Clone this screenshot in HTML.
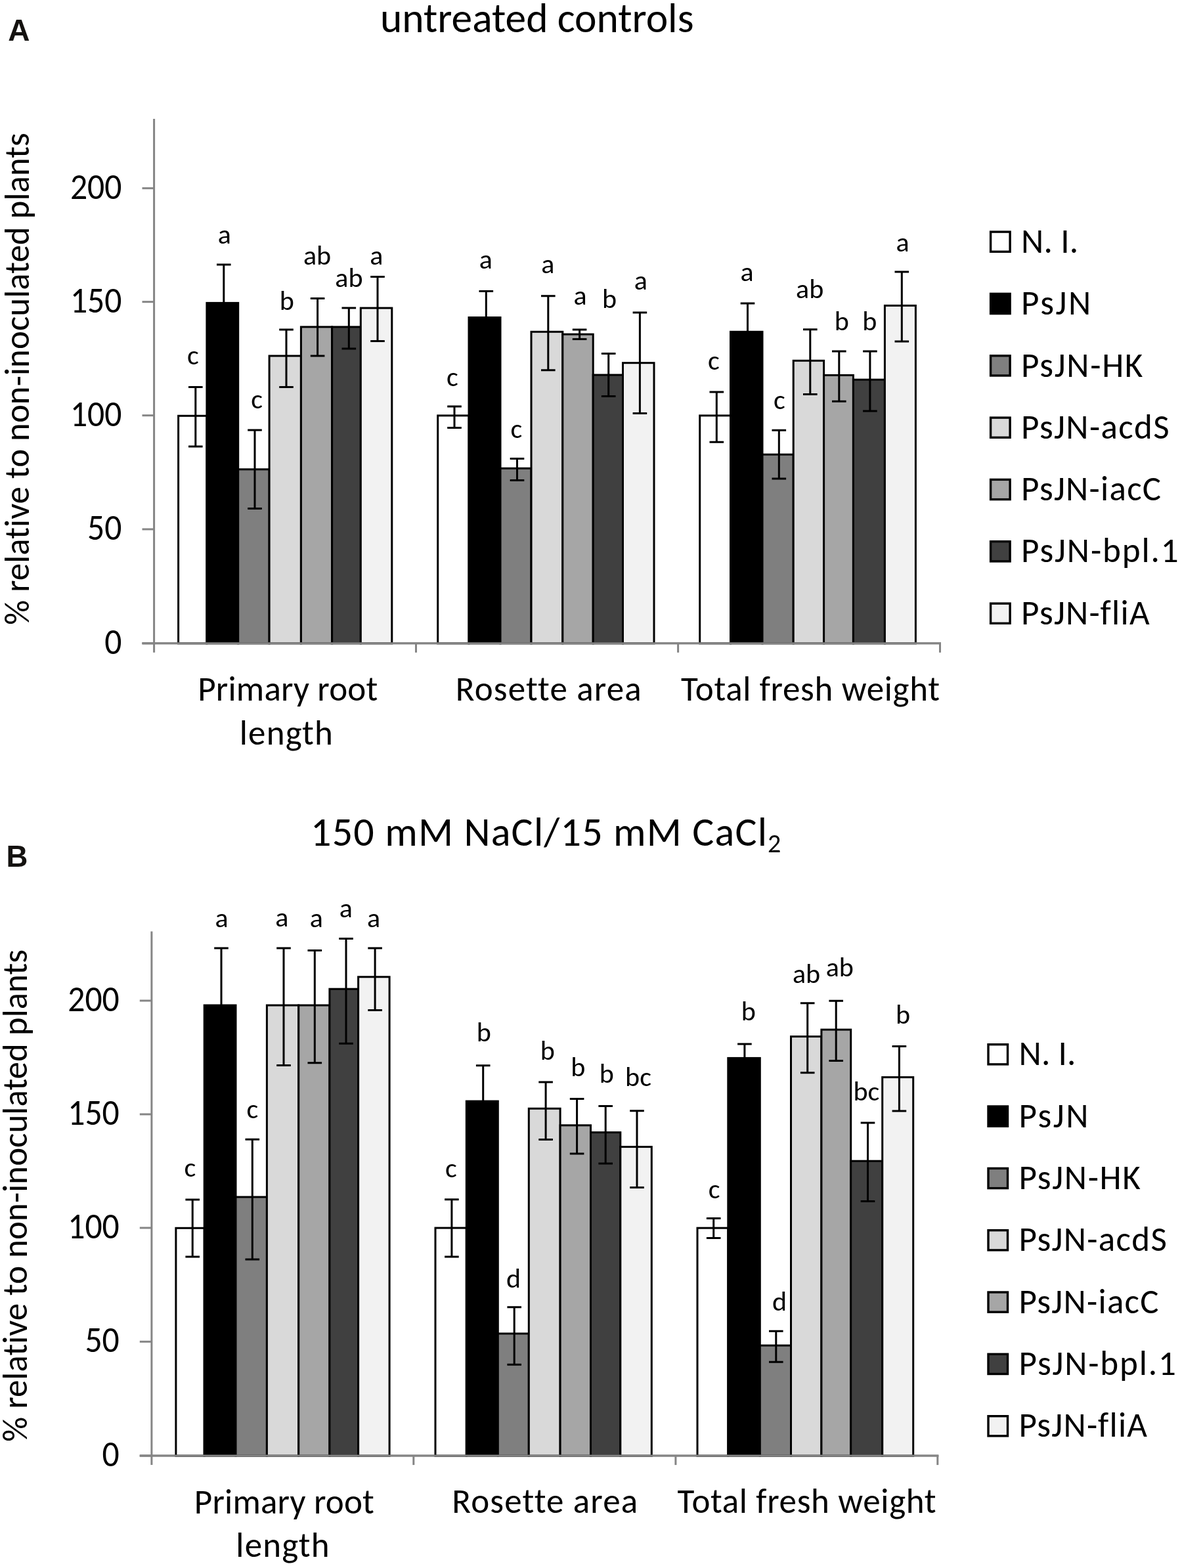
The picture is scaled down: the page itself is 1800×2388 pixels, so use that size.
<!DOCTYPE html><html><head><meta charset="utf-8"><title>Figure</title>
<style>html,body{margin:0;padding:0;background:#fff;}svg{display:block;}text{font-variant-ligatures:none;font-feature-settings:"liga" 0,"clig" 0;}</style></head><body>
<svg width="1800" height="2388" viewBox="0 0 1800 2388">
<rect width="1800" height="2388" fill="#fff"/>
<g font-family="'Liberation Sans', Arial, sans-serif" font-weight="bold" fill="#141210">
<text x="12.2" y="61.8" font-size="46">A</text>
<text x="9.6" y="1319.7" font-size="45.5">B</text>
</g>
<text font-family="Carlito, 'Liberation Sans', sans-serif" font-size="63.5" fill="#000" x="579" y="49.3" textLength="477.5">untreated controls</text>
<text font-family="Carlito, 'Liberation Sans', sans-serif" font-size="62" fill="#000" x="473" y="1287.5" textLength="695">150 mM NaCl/15 mM CaCl</text>
<text font-family="Carlito, 'Liberation Sans', sans-serif" font-size="40" fill="#000" x="1169" y="1298.3">2</text>
<text font-family="Carlito, 'Liberation Sans', sans-serif" font-size="53" fill="#000" text-anchor="middle" textLength="749.7" transform="translate(44 577) rotate(-90)">% relative to non-inoculated plants</text>
<text font-family="Carlito, 'Liberation Sans', sans-serif" font-size="53" fill="#000" text-anchor="middle" textLength="749.7" transform="translate(41.4 1820.8) rotate(-90)">% relative to non-inoculated plants</text>
<g stroke="#858585" stroke-width="3" fill="none">
<line x1="234.6" y1="181.1" x2="234.6" y2="993.8"/>
<line x1="216.5" y1="286.7" x2="234.6" y2="286.7"/>
<line x1="216.5" y1="459.7" x2="234.6" y2="459.7"/>
<line x1="216.5" y1="632.7" x2="234.6" y2="632.7"/>
<line x1="216.5" y1="806" x2="234.6" y2="806"/>
<line x1="216.5" y1="979.8" x2="234.6" y2="979.8"/>
<line x1="216.5" y1="979.8" x2="1433" y2="979.8"/>
<line x1="633.5" y1="979.8" x2="633.5" y2="993.8"/>
<line x1="1032.6" y1="979.8" x2="1032.6" y2="993.8"/>
<line x1="1431.5" y1="979.8" x2="1431.5" y2="993.8"/>
</g>
<g stroke="#000" stroke-width="3">
<rect x="271.6" y="633.3" width="43.3" height="346.5" fill="#ffffff"/>
<rect x="314.9" y="461.4" width="47.8" height="518.4" fill="#000000"/>
<rect x="362.7" y="714.8" width="47.4" height="265" fill="#7f7f7f"/>
<rect x="410.1" y="542" width="48.3" height="437.8" fill="#d9d9d9"/>
<rect x="458.4" y="497.9" width="47.2" height="481.9" fill="#a6a6a6"/>
<rect x="505.6" y="497.9" width="43.7" height="481.9" fill="#404040"/>
<rect x="549.3" y="469.1" width="47.5" height="510.7" fill="#f2f2f2"/>
<rect x="666.7" y="632.9" width="47.3" height="346.9" fill="#ffffff"/>
<rect x="714" y="483.5" width="48" height="496.3" fill="#000000"/>
<rect x="762" y="713.3" width="47" height="266.5" fill="#7f7f7f"/>
<rect x="809" y="505.3" width="47.8" height="474.5" fill="#d9d9d9"/>
<rect x="856.8" y="509.1" width="46.4" height="470.7" fill="#a6a6a6"/>
<rect x="903.2" y="571" width="45.3" height="408.8" fill="#404040"/>
<rect x="948.5" y="552.7" width="47.5" height="427.1" fill="#f2f2f2"/>
<rect x="1065.7" y="632.9" width="46.8" height="346.9" fill="#ffffff"/>
<rect x="1112.5" y="505.3" width="48.5" height="474.5" fill="#000000"/>
<rect x="1161" y="692.2" width="47.2" height="287.6" fill="#7f7f7f"/>
<rect x="1208.2" y="549.3" width="46.4" height="430.5" fill="#d9d9d9"/>
<rect x="1254.6" y="571.4" width="44.8" height="408.4" fill="#a6a6a6"/>
<rect x="1299.4" y="578.2" width="48" height="401.6" fill="#404040"/>
<rect x="1347.4" y="465.4" width="47" height="514.4" fill="#f2f2f2"/>
</g>
<line x1="216.5" y1="979.8" x2="1433" y2="979.8" stroke="#858585" stroke-width="3"/>
<g stroke="#000" stroke-width="3" fill="none">
<path d="M297.8 589.4V680.1M287 589.4H308.6M287 680.1H308.6"/>
<path d="M340.8 403V519.8M330 403H351.6M330 519.8H351.6"/>
<path d="M388 655V774.6M377.2 655H398.8M377.2 774.6H398.8"/>
<path d="M436 502V589.4M425.2 502H446.8M425.2 589.4H446.8"/>
<path d="M483.6 454.4V542M472.8 454.4H494.4M472.8 542H494.4"/>
<path d="M531.3 469.1V531M520.5 469.1H542.1M520.5 531H542.1"/>
<path d="M575 421.5V519.5M564.2 421.5H585.8M564.2 519.5H585.8"/>
<path d="M692 618.9V651.4M681.2 618.9H702.8M681.2 651.4H702.8"/>
<path d="M740.3 443.4V523.6M729.5 443.4H751.1M729.5 523.6H751.1"/>
<path d="M787.5 698.6V731.6M776.7 698.6H798.3M776.7 731.6H798.3"/>
<path d="M834.8 450.7V563.7M824 450.7H845.6M824 563.7H845.6"/>
<path d="M882.6 502.1V516.4M871.8 502.1H893.4M871.8 516.4H893.4"/>
<path d="M926.7 538.5V603.5M915.9 538.5H937.5M915.9 603.5H937.5"/>
<path d="M974.4 476.1V629.4M963.6 476.1H985.2M963.6 629.4H985.2"/>
<path d="M1091.3 596.9V673.3M1080.5 596.9H1102.1M1080.5 673.3H1102.1"/>
<path d="M1138.5 462V548.6M1127.7 462H1149.3M1127.7 548.6H1149.3"/>
<path d="M1186.3 655.3V729.1M1175.5 655.3H1197.1M1175.5 729.1H1197.1"/>
<path d="M1233.8 501.8V600.5M1223 501.8H1244.6M1223 600.5H1244.6"/>
<path d="M1277.8 534.9V611.3M1267 534.9H1288.6M1267 611.3H1288.6"/>
<path d="M1324.9 534.9V626.1M1314.1 534.9H1335.7M1314.1 626.1H1335.7"/>
<path d="M1373.3 414.1V520.1M1362.5 414.1H1384.1M1362.5 520.1H1384.1"/>
</g>
<g font-family="Carlito, 'Liberation Sans', sans-serif" font-size="42" text-anchor="middle" fill="#000">
<text x="294" y="555" textLength="17.8">c</text>
<text x="341.9" y="371" textLength="20.1">a</text>
<text x="391.2" y="622.4" textLength="17.8">c</text>
<text x="436.9" y="472.3" textLength="22.1">b</text>
<text x="483.1" y="403" textLength="42.2">ab</text>
<text x="531.4" y="436.6" textLength="42.2">ab</text>
<text x="573.4" y="403" textLength="20.1">a</text>
<text x="688.9" y="587.8" textLength="17.8">c</text>
<text x="739.8" y="409.3" textLength="20.1">a</text>
<text x="786.5" y="666.5" textLength="17.8">c</text>
<text x="834.3" y="415.6" textLength="20.1">a</text>
<text x="883.6" y="464" textLength="20.1">a</text>
<text x="928" y="469.2" textLength="22.1">b</text>
<text x="975.9" y="440.8" textLength="20.1">a</text>
<text x="1086.8" y="563.4" textLength="17.8">c</text>
<text x="1137.5" y="427.8" textLength="20.1">a</text>
<text x="1187" y="622.7" textLength="17.8">c</text>
<text x="1233.2" y="454" textLength="42.2">ab</text>
<text x="1281.9" y="503" textLength="22.1">b</text>
<text x="1324.4" y="503" textLength="22.1">b</text>
<text x="1374.5" y="383.3" textLength="20.1">a</text>
</g>
<g font-family="Carlito, 'Liberation Sans', sans-serif" font-size="55" text-anchor="end" fill="#000">
<text x="185.5" y="302.7" textLength="78.6" lengthAdjust="spacingAndGlyphs">200</text>
<text x="185.5" y="475.7" textLength="78.6" lengthAdjust="spacingAndGlyphs">150</text>
<text x="185.5" y="648.7" textLength="78.6" lengthAdjust="spacingAndGlyphs">100</text>
<text x="185.5" y="822" textLength="52.4" lengthAdjust="spacingAndGlyphs">50</text>
<text x="185.5" y="995.8" textLength="26.2" lengthAdjust="spacingAndGlyphs">0</text>
</g>
<g font-family="Carlito, 'Liberation Sans', sans-serif" font-size="53" text-anchor="middle" fill="#000">
<text x="438.2" y="1067.2" textLength="274">Primary root</text>
<text x="435.8" y="1133.9" textLength="142.2">length</text>
<text x="835.2" y="1067" textLength="282.9">Rosette area</text>
<text x="1234" y="1067" textLength="394">Total fresh weight</text>
</g>
<g font-family="Carlito, 'Liberation Sans', sans-serif" font-size="53" fill="#000">
<rect x="1508.6" y="353.1" width="29.5" height="30.2" fill="#ffffff" stroke="#000" stroke-width="3.4"/>
<text x="1555.1" y="384.8" textLength="87">N. I.</text>
<rect x="1508.6" y="447.4" width="29.5" height="30.2" fill="#000000" stroke="#000" stroke-width="3.4"/>
<text x="1555.1" y="479.1" textLength="106">PsJN</text>
<rect x="1508.6" y="541.8" width="29.5" height="30.2" fill="#7f7f7f" stroke="#000" stroke-width="3.4"/>
<text x="1555.1" y="573.5" textLength="185.3">PsJN-HK</text>
<rect x="1508.6" y="636.1" width="29.5" height="30.2" fill="#d9d9d9" stroke="#000" stroke-width="3.4"/>
<text x="1555.1" y="667.8" textLength="225.4">PsJN-acdS</text>
<rect x="1508.6" y="730.4" width="29.5" height="30.2" fill="#a6a6a6" stroke="#000" stroke-width="3.4"/>
<text x="1555.1" y="762.1" textLength="213">PsJN-iacC</text>
<rect x="1508.6" y="824.7" width="29.5" height="30.2" fill="#404040" stroke="#000" stroke-width="3.4"/>
<text x="1555.1" y="856.4" textLength="239.4">PsJN-bpl.1</text>
<rect x="1508.6" y="919.1" width="29.5" height="30.2" fill="#f2f2f2" stroke="#000" stroke-width="3.4"/>
<text x="1555.1" y="950.8" textLength="195.5">PsJN-fliA</text>
</g>
<g stroke="#858585" stroke-width="3" fill="none">
<line x1="230.9" y1="1418.4" x2="230.9" y2="2231.1"/>
<line x1="212.8" y1="1524" x2="230.9" y2="1524"/>
<line x1="212.8" y1="1697" x2="230.9" y2="1697"/>
<line x1="212.8" y1="1870" x2="230.9" y2="1870"/>
<line x1="212.8" y1="2043.3" x2="230.9" y2="2043.3"/>
<line x1="212.8" y1="2217.1" x2="230.9" y2="2217.1"/>
<line x1="212.8" y1="2217.1" x2="1429.3" y2="2217.1"/>
<line x1="629.8" y1="2217.1" x2="629.8" y2="2231.1"/>
<line x1="1028.9" y1="2217.1" x2="1028.9" y2="2231.1"/>
<line x1="1427.8" y1="2217.1" x2="1427.8" y2="2231.1"/>
</g>
<g stroke="#000" stroke-width="3">
<rect x="267.9" y="1870.3" width="43.3" height="346.8" fill="#ffffff"/>
<rect x="311.2" y="1531" width="47.8" height="686.1" fill="#000000"/>
<rect x="359" y="1823" width="47.4" height="394.1" fill="#7f7f7f"/>
<rect x="406.4" y="1531" width="48.3" height="686.1" fill="#d9d9d9"/>
<rect x="454.7" y="1531" width="47.2" height="686.1" fill="#a6a6a6"/>
<rect x="501.9" y="1506.2" width="43.7" height="710.9" fill="#404040"/>
<rect x="545.6" y="1487.8" width="47.5" height="729.3" fill="#f2f2f2"/>
<rect x="663" y="1870.1" width="47.3" height="347" fill="#ffffff"/>
<rect x="710.3" y="1677.1" width="48" height="540" fill="#000000"/>
<rect x="758.3" y="2031" width="47" height="186.1" fill="#7f7f7f"/>
<rect x="805.3" y="1688.3" width="47.8" height="528.8" fill="#d9d9d9"/>
<rect x="853.1" y="1713.8" width="46.4" height="503.3" fill="#a6a6a6"/>
<rect x="899.5" y="1724.6" width="45.3" height="492.5" fill="#404040"/>
<rect x="944.8" y="1746.6" width="47.5" height="470.5" fill="#f2f2f2"/>
<rect x="1062" y="1870.2" width="46.8" height="346.9" fill="#ffffff"/>
<rect x="1108.8" y="1611.4" width="48.5" height="605.7" fill="#000000"/>
<rect x="1157.3" y="2049.1" width="47.2" height="168" fill="#7f7f7f"/>
<rect x="1204.5" y="1578.6" width="46.4" height="638.5" fill="#d9d9d9"/>
<rect x="1250.9" y="1568.1" width="44.8" height="649" fill="#a6a6a6"/>
<rect x="1295.7" y="1768.2" width="48" height="448.9" fill="#404040"/>
<rect x="1343.7" y="1640.6" width="47" height="576.5" fill="#f2f2f2"/>
</g>
<line x1="212.8" y1="2217.1" x2="1429.3" y2="2217.1" stroke="#858585" stroke-width="3"/>
<g stroke="#000" stroke-width="3" fill="none">
<path d="M293.2 1827.1V1914.1M282.4 1827.1H304M282.4 1914.1H304"/>
<path d="M337 1444V1618M326.2 1444H347.8M326.2 1618H347.8"/>
<path d="M384.3 1735.3V1918M373.5 1735.3H395.1M373.5 1918H395.1"/>
<path d="M432 1444V1622.6M421.2 1444H442.8M421.2 1622.6H442.8"/>
<path d="M479.3 1447.4V1618.7M468.5 1447.4H490.1M468.5 1618.7H490.1"/>
<path d="M527 1429.5V1589.2M516.2 1429.5H537.8M516.2 1589.2H537.8"/>
<path d="M571.1 1444V1538.6M560.3 1444H581.9M560.3 1538.6H581.9"/>
<path d="M687.9 1826.7V1914.1M677.1 1826.7H698.7M677.1 1914.1H698.7"/>
<path d="M735.7 1622.7V1731.5M724.9 1622.7H746.5M724.9 1731.5H746.5"/>
<path d="M783.2 1990.8V2078.2M772.4 1990.8H794M772.4 2078.2H794"/>
<path d="M831.1 1647.9V1735.4M820.3 1647.9H841.9M820.3 1735.4H841.9"/>
<path d="M878.6 1673.4V1757M867.8 1673.4H889.4M867.8 1757H889.4"/>
<path d="M922.2 1684.6V1772.1M911.4 1684.6H933M911.4 1772.1H933"/>
<path d="M970 1691.7V1808.4M959.2 1691.7H980.8M959.2 1808.4H980.8"/>
<path d="M1086.7 1855.4V1885.5M1075.9 1855.4H1097.5M1075.9 1885.5H1097.5"/>
<path d="M1133.9 1590V1632.8M1123.1 1590H1144.7M1123.1 1632.8H1144.7"/>
<path d="M1181.8 2027.3V2074.2M1171 2027.3H1192.6M1171 2074.2H1192.6"/>
<path d="M1229.7 1527.8V1633.8M1218.9 1527.8H1240.5M1218.9 1633.8H1240.5"/>
<path d="M1273.2 1524.3V1615.5M1262.4 1524.3H1284M1262.4 1615.5H1284"/>
<path d="M1321.5 1710.1V1829.6M1310.7 1710.1H1332.3M1310.7 1829.6H1332.3"/>
<path d="M1369.4 1593.4V1691.9M1358.6 1593.4H1380.2M1358.6 1691.9H1380.2"/>
</g>
<g font-family="Carlito, 'Liberation Sans', sans-serif" font-size="42" text-anchor="middle" fill="#000">
<text x="289.4" y="1792.1" textLength="17.8">c</text>
<text x="337.5" y="1412.2" textLength="20.1">a</text>
<text x="384.4" y="1702.5" textLength="17.8">c</text>
<text x="429.3" y="1411" textLength="20.1">a</text>
<text x="481.9" y="1411.5" textLength="20.1">a</text>
<text x="526.9" y="1396.5" textLength="20.1">a</text>
<text x="569" y="1412" textLength="20.1">a</text>
<text x="687" y="1792.6" textLength="17.8">c</text>
<text x="736.7" y="1586.4" textLength="22.1">b</text>
<text x="782" y="1961.2" textLength="22.1">d</text>
<text x="833.8" y="1614.4" textLength="22.1">b</text>
<text x="880.2" y="1639.3" textLength="22.1">b</text>
<text x="923.7" y="1649" textLength="22.1">b</text>
<text x="972" y="1654.4" textLength="39.8">bc</text>
<text x="1087.6" y="1825.1" textLength="17.8">c</text>
<text x="1139.9" y="1554" textLength="22.1">b</text>
<text x="1187" y="1996" textLength="22.1">d</text>
<text x="1228" y="1497" textLength="42.2">ab</text>
<text x="1278.8" y="1486.7" textLength="42.2">ab</text>
<text x="1319.3" y="1675.9" textLength="39.8">bc</text>
<text x="1375.1" y="1558.5" textLength="22.1">b</text>
</g>
<g font-family="Carlito, 'Liberation Sans', sans-serif" font-size="55" text-anchor="end" fill="#000">
<text x="181.8" y="1540" textLength="78.6" lengthAdjust="spacingAndGlyphs">200</text>
<text x="181.8" y="1713" textLength="78.6" lengthAdjust="spacingAndGlyphs">150</text>
<text x="181.8" y="1886" textLength="78.6" lengthAdjust="spacingAndGlyphs">100</text>
<text x="181.8" y="2059.3" textLength="52.4" lengthAdjust="spacingAndGlyphs">50</text>
<text x="181.8" y="2233.1" textLength="26.2" lengthAdjust="spacingAndGlyphs">0</text>
</g>
<g font-family="Carlito, 'Liberation Sans', sans-serif" font-size="53" text-anchor="middle" fill="#000">
<text x="432.8" y="2304.5" textLength="274">Primary root</text>
<text x="430.4" y="2371.2" textLength="142.2">length</text>
<text x="829.8" y="2304.3" textLength="282.9">Rosette area</text>
<text x="1228.6" y="2304.3" textLength="394">Total fresh weight</text>
</g>
<g font-family="Carlito, 'Liberation Sans', sans-serif" font-size="53" fill="#000">
<rect x="1505" y="1590.7" width="29.5" height="30.2" fill="#ffffff" stroke="#000" stroke-width="3.4"/>
<text x="1551.5" y="1622.4" textLength="87">N. I.</text>
<rect x="1505" y="1685" width="29.5" height="30.2" fill="#000000" stroke="#000" stroke-width="3.4"/>
<text x="1551.5" y="1716.7" textLength="106">PsJN</text>
<rect x="1505" y="1779.4" width="29.5" height="30.2" fill="#7f7f7f" stroke="#000" stroke-width="3.4"/>
<text x="1551.5" y="1811.1" textLength="185.3">PsJN-HK</text>
<rect x="1505" y="1873.7" width="29.5" height="30.2" fill="#d9d9d9" stroke="#000" stroke-width="3.4"/>
<text x="1551.5" y="1905.4" textLength="225.4">PsJN-acdS</text>
<rect x="1505" y="1968" width="29.5" height="30.2" fill="#a6a6a6" stroke="#000" stroke-width="3.4"/>
<text x="1551.5" y="1999.7" textLength="213">PsJN-iacC</text>
<rect x="1505" y="2062.3" width="29.5" height="30.2" fill="#404040" stroke="#000" stroke-width="3.4"/>
<text x="1551.5" y="2094" textLength="239.4">PsJN-bpl.1</text>
<rect x="1505" y="2156.7" width="29.5" height="30.2" fill="#f2f2f2" stroke="#000" stroke-width="3.4"/>
<text x="1551.5" y="2188.4" textLength="195.5">PsJN-fliA</text>
</g>
</svg></body></html>
